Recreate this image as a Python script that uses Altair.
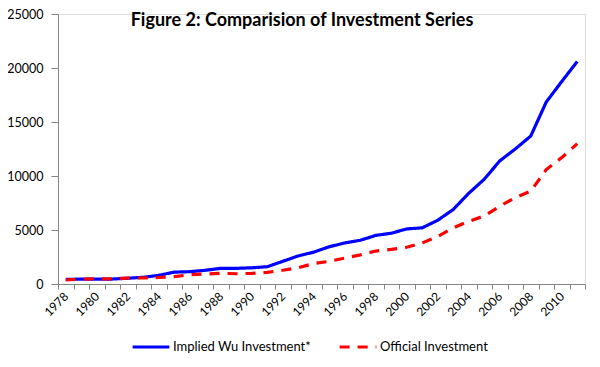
import altair as alt
import pandas as pd

years = list(range(1978, 2012))
wu = [430, 450, 460, 460, 530, 620, 800, 1100, 1140, 1270, 1450, 1450, 1500, 1600,
      2100, 2600, 2950, 3450, 3800, 4050, 4500, 4700, 5100, 5200, 5900, 6900, 8400,
      9700, 11400, 12500, 13700, 16850, 18750, 20600]
official = [370, 460, 480, 480, 550, 560, 600, 680, 860, 930, 990, 950, 990, 1080,
            1270, 1500, 1900, 2100, 2400, 2700, 3050, 3200, 3400, 3800, 4400, 5200,
            5800, 6300, 7200, 8000, 8600, 10600, 11700, 13000]
series_names = ["Implied Wu Investment*", "Official Investment"]
title_text = "Figure 2: Comparision of Investment Series"

rows = []
for y, a, b in zip(years, wu, official):
    rows.append({"year": str(y), "series": series_names[0], "value": a})
    rows.append({"year": str(y), "series": series_names[1], "value": b})
df = pd.DataFrame(rows)

FONT = "Lato"
W, H = 527, 270

leg = dict(title=None, orient="none", legendX=73, legendY=313,
           direction="horizontal", symbolType="stroke",
           symbolStrokeWidth=3.2, symbolSize=1350,
           labelFontSize=13, labelFont=FONT, labelColor="#000000",
           columnPadding=22, labelOffset=2)

lines = alt.Chart(df).mark_line(strokeWidth=3.2, clip=False).encode(
    x=alt.X("year:O", sort=[str(y) for y in years],
            scale=alt.Scale(type="band", paddingInner=0, paddingOuter=0),
            axis=alt.Axis(title=None, tickBand="extent", labelAngle=315,
                          labelAlign="right", labelBaseline="middle",
                          labelExpr="toNumber(datum.value) % 2 == 0 ? datum.value : ''",
                          labelFontSize=12, labelFont=FONT, labelColor="#000000",
                          domainColor="#868686", tickColor="#868686", tickSize=5,
                          labelPadding=5, grid=False)),
    y=alt.Y("value:Q", scale=alt.Scale(domain=[0, 25000], nice=False),
            axis=alt.Axis(title=None, values=[0, 5000, 10000, 15000, 20000, 25000],
                          format="d",
                          labelFontSize=12.5, labelFont=FONT, labelColor="#000000",
                          domainColor="#868686", tickColor="#868686", tickSize=7,
                          labelPadding=8, grid=False)),
    color=alt.Color("series:N", scale=alt.Scale(domain=series_names, range=["#0000FF", "#FF0000"]),
                    legend=alt.Legend(**leg)),
    strokeDash=alt.StrokeDash("series:N", scale=alt.Scale(domain=series_names, range=[[1, 0], [10, 8]]),
                              legend=alt.Legend(**leg)),
)

title = alt.Chart(pd.DataFrame({"t": [title_text]})).mark_text(
    font=FONT, fontSize=18, fontWeight="bold", color="#000000", baseline="middle", align="center"
).encode(text="t:N", x=alt.value(244), y=alt.value(7))

chart = alt.layer(lines, title).properties(
    width=W, height=H,
    autosize=alt.AutoSizeParams(type="none"),
    padding={"left": 50, "top": 6, "right": 7, "bottom": 83},
).configure_view(stroke=None).configure(background="#ffffff")

chart.save("out.html", embed_options={"renderer": "svg", "actions": False})
